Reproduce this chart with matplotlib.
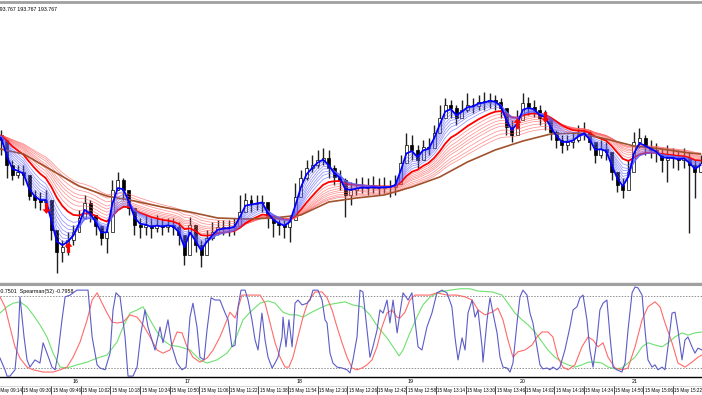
import matplotlib
matplotlib.use('Agg')
import matplotlib.pyplot as plt
import numpy as np
import pandas as pd
from matplotlib.path import Path

# x unit = minutes after 09:14, bars are 3 minutes wide starting at 09:16
bar_start = 2
bar_step = 3

close = [192.65, 192.60, 192.35, 192.25, 192.28, 192.25, 192.04, 192.00, 191.98, 192.00,
         191.70, 191.48, 191.53, 191.60, 191.68, 191.82, 191.97, 191.85, 191.74, 191.62,
         191.68, 192.10, 192.20, 192.10, 191.92, 191.75, 191.73, 191.75, 191.72, 191.75,
         191.73, 191.75, 191.73, 191.65, 191.45, 191.75, 191.55, 191.45, 191.62, 191.68,
         191.73, 191.72, 191.72, 191.74, 191.88, 192.00, 191.96, 191.97, 191.98, 191.82,
         191.77, 191.75, 191.73, 191.80, 192.03, 192.22, 192.32, 192.35, 192.40, 192.42,
         192.32, 192.23, 192.20, 192.05, 192.10, 192.12, 192.13, 192.12, 192.13, 192.12,
         192.13, 192.13, 192.16, 192.37, 192.55, 192.50, 192.40, 192.53, 192.52, 192.67,
         192.82, 192.95, 192.92, 192.82, 192.90, 192.95, 192.94, 192.98, 192.98, 193.00,
         192.98, 192.92, 192.73, 192.65, 192.80, 192.97, 192.93, 192.90, 192.82, 192.82,
         192.68, 192.60, 192.55, 192.58, 192.60, 192.66, 192.68, 192.58, 192.45, 192.51,
         192.48, 192.28, 192.15, 192.10, 192.28, 192.58, 192.62, 192.53, 192.50, 192.47,
         192.40, 192.42, 192.42, 192.40, 192.42, 192.35, 192.28, 192.37]
high = [192.72, 192.70, 192.52, 192.40, 192.35, 192.35, 192.20, 192.10, 192.08, 192.10,
        191.95, 191.65, 191.60, 191.68, 191.75, 191.90, 192.05, 192.00, 191.85, 191.75,
        191.72, 192.20, 192.28, 192.22, 192.10, 191.90, 191.82, 191.85, 191.82, 191.85,
        191.82, 191.82, 191.82, 191.78, 191.62, 191.83, 191.75, 191.60, 191.70, 191.78,
        191.80, 191.80, 191.80, 191.82, 192.05, 192.07, 192.05, 192.05, 192.05, 191.95,
        191.85, 191.82, 191.80, 191.85, 192.17, 192.30, 192.40, 192.45, 192.50, 192.52,
        192.50, 192.35, 192.30, 192.22, 192.18, 192.22, 192.23, 192.22, 192.24, 192.22,
        192.23, 192.20, 192.25, 192.45, 192.67, 192.65, 192.55, 192.60, 192.62, 192.75,
        192.95, 193.02, 193.00, 192.95, 193.00, 193.07, 193.02, 193.05, 193.08, 193.07,
        193.05, 193.02, 192.90, 192.80, 192.90, 193.07, 193.03, 193.00, 192.95, 192.90,
        192.80, 192.70, 192.65, 192.65, 192.68, 192.75, 192.78, 192.70, 192.57, 192.60,
        192.58, 192.42, 192.28, 192.22, 192.40, 192.68, 192.72, 192.65, 192.60, 192.57,
        192.52, 192.55, 192.52, 192.50, 192.52, 192.48, 192.40, 192.45]
low = [192.60, 192.45, 192.22, 192.20, 192.22, 192.15, 192.00, 191.92, 191.90, 191.92,
       191.60, 191.27, 191.38, 191.45, 191.55, 191.72, 191.85, 191.78, 191.65, 191.55,
       191.47, 191.85, 192.10, 192.00, 191.85, 191.65, 191.62, 191.65, 191.62, 191.68,
       191.65, 191.68, 191.65, 191.55, 191.35, 191.60, 191.48, 191.33, 191.50, 191.60,
       191.65, 191.65, 191.64, 191.65, 191.75, 191.90, 191.88, 191.90, 191.88, 191.72,
       191.63, 191.65, 191.62, 191.58, 191.90, 192.05, 192.20, 192.28, 192.32, 192.35,
       192.22, 192.15, 192.10, 191.83, 191.95, 192.05, 192.07, 192.05, 192.07, 192.05,
       192.07, 192.03, 192.05, 192.25, 192.42, 192.40, 192.32, 192.42, 192.45, 192.58,
       192.72, 192.85, 192.82, 192.75, 192.82, 192.88, 192.87, 192.90, 192.90, 192.92,
       192.90, 192.82, 192.65, 192.58, 192.70, 192.88, 192.85, 192.83, 192.75, 192.70,
       192.60, 192.52, 192.47, 192.50, 192.52, 192.58, 192.60, 192.50, 192.37, 192.42,
       192.40, 192.20, 192.08, 192.02, 192.15, 192.40, 192.52, 192.45, 192.42, 192.38,
       192.28, 192.18, 192.32, 192.30, 192.32, 191.67, 192.02, 192.28]

# slow brown average, read at every 5th bar
brown_bar = [0, 5, 10, 15, 20, 25, 30, 35, 40, 45, 50, 55, 60, 65, 70, 75, 80, 85,
             90, 95, 100, 105, 110, 115, 120, 125, 127]
brown_val = [192.52, 192.46, 192.30, 192.14, 192.04, 191.99, 191.93, 191.88, 191.82,
             191.81, 191.82, 191.85, 191.98, 192.02, 192.05, 192.13, 192.23, 192.38,
             192.50, 192.59, 192.66, 192.67, 192.61, 192.54, 192.51, 192.47, 192.46]

blue_spans = [2, 2.7, 3.4, 4.2, 5, 6, 7, 8.5]
red_spans = [11, 13, 15, 17, 19, 21, 24, 27, 30]

# signal arrows
sig_bar = [9, 13, 94, 99]
sig_price = [191.92, 191.53, 192.77, 192.83]
sig_up = [False, True, True, False]

# Spearman oscillators
blue_t = [4.3, 7.0, 8.1, 9.7, 12.4, 14.1, 15.1, 17.3, 18.9, 20.5, 23.2, 25.9, 27.6, 29.7,
          32.4, 34.1, 35.7, 37.8, 39.5, 42.2, 45.9, 50.3, 51.9, 54.1, 56.8, 58.4, 61.1,
          63.8, 65.4, 67.0, 69.2, 71.9, 73.5, 76.2, 78.4, 80.5, 82.7, 84.3, 88.1, 90.8,
          92.4, 95.1, 97.3, 100.0, 102.7, 104.9, 107.0, 108.6, 110.8, 112.4, 114.6, 116.2,
          118.4, 120.5, 123.2, 126.0, 127.6, 129.7, 131.4, 133.0, 134.6, 136.8, 138.4,
          140.5, 142.2, 143.8, 145.9, 147.6, 149.2, 151.4, 153.0, 154.6, 156.8, 157.3,
          158.9, 160.5, 162.2, 163.8, 165.4, 167.6, 170.3, 171.9, 173.5, 176.2, 178.4,
          180.0, 181.1, 182.7, 184.3, 186.5, 189.2, 191.9, 193.5, 195.1, 197.3, 198.9,
          200.5, 202.7, 204.3, 205.9, 208.1, 209.7, 211.4, 213.5, 215.1, 216.8, 219.0,
          220.5, 222.2, 224.9, 227.0, 228.6, 230.3, 232.4, 235.1, 237.8, 240.5, 243.2,
          245.9, 248.6, 250.3, 251.9, 254.1, 255.7, 257.3, 259.5, 261.1, 262.7, 264.9,
          265.4, 267.6, 269.2, 270.8, 273.0, 274.6, 276.2, 278.4, 280.0, 281.6, 283.8,
          285.4, 287.0, 289.2, 290.8, 292.4, 294.6, 296.2, 297.8, 300.0, 301.6, 303.2,
          305.4, 307.0, 309.7, 312.4, 314.1, 316.2, 317.8, 319.5, 321.6, 323.2, 324.9,
          327.0, 328.6, 330.3, 332.4, 334.1, 335.7, 337.8, 340.5, 342.2, 343.8, 346.0,
          347.6, 349.2, 351.4, 353.0, 354.6, 356.8, 358.4, 360.0, 362.2, 363.8, 365.4,
          367.6, 369.2, 370.8, 373.0, 374.6, 376.2, 378.4, 380.0, 381.6, 383.8]
blue_v = [-0.58, -0.84, -0.98, -0.98, -0.84, -0.11, 0.78, -0.11, -0.62, -0.78, -0.62, -0.69,
          -0.24, -0.47, -0.78, -0.84, -0.47, 0.27, 0.78, 0.82, 0.93, 0.93, 0.93, -0.11,
          -0.73, -0.80, -0.84, -0.47, 0.49, 0.87, 0.78, -0.11, -0.98, -0.98, -0.78, -0.02,
          0.49, 0.11, -0.40, 0.11, -0.24, 0.27, -0.33, -0.69, -0.84, -0.78, 0.33, 0.64,
          0.11, -0.56, -0.62, 0.04, 0.76, 0.71, 0.71, 0.42, 0.27, -0.33, -0.29, 0.56, 0.93,
          0.93, 0.71, 0.27, -0.18, -0.40, 0.42, -0.18, -0.56, -0.80, -0.69, -0.56, -0.11,
          0.33, -0.33, 0.27, -0.33, 0.64, 0.71, 0.60, 0.64, 0.71, 0.93, 0.93, 0.71, 0.27,
          0.20, -0.47, -0.69, -0.78, -0.80, -0.84, -0.91, -0.62, -0.11, 0.93, 0.89, 0.04,
          -0.56, -0.33, 0.04, 0.49, 0.42, 0.71, 0.20, 0.71, -0.02, 0.42, 0.87, 0.71, 0.87,
          0.27, -0.33, -0.40, 0.11, 0.42, 0.87, 0.93, 0.87, 0.56, -0.13, -0.62, -0.13,
          -0.40, 0.42, 0.71, 0.33, 0.49, -0.33, -0.67, 0.27, 0.76, 0.42, -0.02, -0.56,
          -0.78, -0.80, -0.89, -0.69, 0.20, 0.78, 0.93, 0.82, 0.42, 0.20, -0.33, -0.73,
          -0.82, -0.80, -0.84, -0.78, -0.84, -0.78, -0.40, 0.11, 0.49, 0.56, 0.76, 0.82,
          0.27, -0.40, -0.78, -0.18, 0.49, 0.64, 0.71, -0.11, -0.78, -0.84, -0.89, -0.69,
          0.04, 0.87, 1.00, 0.98, 0.82, 0.04, -0.62, -0.78, -0.73, -0.84, -0.78, -0.84,
          -0.33, 0.42, 0.44, 0.04, -0.62, -0.18, -0.11, -0.33, -0.47, -0.36, -0.40]

red_t = [4.3, 7.0, 9.7, 12.4, 15.1, 18.9, 22.2, 27.6, 33.0, 36.8, 40.5, 43.8, 47.6, 51.4,
         54.1, 56.8, 59.5, 62.2, 64.9, 67.6, 70.8, 74.6, 78.4, 81.6, 85.4, 89.2, 92.4,
         96.2, 100.0, 102.7, 105.4, 108.6, 112.4, 116.2, 119.5, 123.2, 127.0, 128.6,
         131.4, 135.1, 139.5, 144.9, 147.6, 150.3, 153.0, 155.7, 158.4, 160.5, 162.7,
         165.4, 168.1, 170.8, 174.6, 178.4, 181.1, 183.8, 186.5, 189.2, 191.9, 194.6,
         197.3, 200.0, 202.7, 205.4, 208.1, 210.8, 213.5, 216.2, 218.9, 220.5, 223.2,
         225.9, 228.6, 232.4, 236.8, 240.5, 245.9, 251.4, 255.7, 259.5, 262.7, 266.5,
         270.3, 273.5, 276.2, 278.9, 281.6, 284.3, 288.1, 291.9, 294.6, 297.3, 300.5,
         303.2, 305.9, 308.6, 311.4, 315.1, 318.9, 322.2, 324.9, 327.6, 330.3, 333.0,
         336.8, 340.5, 343.8, 347.6, 351.4, 354.6, 358.4, 361.1, 363.8, 367.6, 370.8,
         374.6, 378.4, 381.6, 383.8]
red_v = [0.78, 0.56, 0.11, -0.33, -0.58, -0.78, -0.84, -0.89, -0.89, -0.84, -0.78, -0.56,
         -0.22, 0.27, 0.71, 0.87, 0.64, 0.42, 0.22, 0.20, 0.22, 0.38, 0.33, 0.16, -0.11,
         -0.40, -0.47, -0.40, 0.00, -0.02, -0.33, -0.56, -0.67, -0.58, -0.40, -0.11, 0.27,
         0.44, 0.31, 0.82, 0.82, 0.82, 0.64, 0.20, -0.24, -0.56, -0.78, -0.78, -0.56,
         -0.11, 0.33, 0.67, 0.89, 0.89, 0.76, 0.49, 0.11, -0.24, -0.56, -0.80, -0.84,
         -0.80, -0.73, -0.62, -0.33, 0.11, 0.42, 0.49, 0.33, 0.31, 0.44, 0.71, 0.82, 0.82,
         0.82, 0.87, 0.82, 0.82, 0.78, 0.71, 0.49, 0.38, 0.44, 0.53, 0.27, -0.18, -0.56,
         -0.44, -0.40, -0.29, -0.11, 0.00, 0.00, -0.11, -0.56, -0.78, -0.84, -0.73, -0.33,
         -0.11, -0.18, -0.33, -0.24, -0.56, -0.80, -0.84, -0.80, -0.33, 0.27, 0.56, 0.67,
         0.56, 0.20, -0.24, -0.69, -0.78, -0.67, -0.56, -0.51]

green_t = [4.3, 8.1, 11.4, 15.1, 18.9, 22.2, 25.9, 29.7, 33.0, 36.8, 40.5, 45.9, 51.4,
           56.8, 62.2, 67.6, 70.8, 74.6, 78.4, 81.6, 85.4, 89.2, 92.4, 96.2, 101.6, 107.0,
           112.4, 116.2, 121.6, 127.0, 130.3, 135.7, 139.5, 144.9, 149.2, 153.0, 157.3,
           161.1, 164.9, 168.1, 171.9, 177.3, 181.1, 186.5, 190.8, 195.1, 200.0, 204.3,
           208.6, 213.5, 216.8, 220.0, 222.2, 225.9, 229.7, 232.9, 236.8, 242.2, 247.6,
           253.0, 258.4, 262.7, 270.3, 275.7, 278.9, 282.7, 286.5, 289.7, 293.5, 297.3,
           300.5, 304.3, 308.1, 311.4, 315.1, 318.9, 322.2, 325.9, 329.7, 333.0, 336.8,
           340.5, 343.8, 347.6, 351.4, 354.6, 358.4, 362.2, 365.4, 369.2, 373.0, 376.2,
           380.0, 383.8]
green_v = [0.42, 0.56, 0.64, 0.67, 0.56, 0.38, 0.16, -0.11, -0.47, -0.78, -0.80, -0.73,
           -0.67, -0.58, -0.51, -0.22, 0.11, 0.42, 0.49, 0.56, 0.27, 0.00, -0.18, -0.29,
           -0.33, -0.40, -0.62, -0.69, -0.62, -0.47, -0.29, 0.27, 0.44, 0.64, 0.69, 0.64,
           0.44, 0.38, 0.38, 0.33, 0.42, 0.53, 0.60, 0.64, 0.67, 0.60, 0.56, 0.38, 0.11,
           -0.13, -0.33, -0.53, -0.40, -0.02, 0.33, 0.60, 0.78, 0.89, 0.93, 0.96, 0.96,
           0.91, 0.89, 0.82, 0.64, 0.42, 0.27, 0.16, 0.00, -0.22, -0.40, -0.56, -0.67,
           -0.73, -0.78, -0.73, -0.67, -0.67, -0.69, -0.78, -0.82, -0.80, -0.69, -0.56,
           -0.33, -0.24, -0.29, -0.33, -0.24, -0.11, -0.02, -0.07, -0.02, 0.00]

# time scale
tick_min = list(range(0, 369, 16))
tick_lab = ['15 May %02d:%02d' % ((554 + t) // 60, (554 + t) % 60) for t in tick_min]
day_min = [45, 105.5, 166, 226.5, 287, 347.5]
day_lab = ['16', '17', '18', '19', '20', '21']

small = ['Liberation Sans', 'DejaVu Sans']
W, H = 702, 395
fig = plt.figure(figsize=(W / 100, H / 100), dpi=100)
fig.patch.set_facecolor('white')

ax1 = fig.add_axes([0, 1 - 283 / H, 1, 281 / H])
ax2 = fig.add_axes([0, 1 - 377 / H, 1, 92 / H])
ax3 = fig.add_axes([0, 0, 1, 17 / H])
xlim = (4.3, 383.8)

# price panel
bx = bar_start + bar_step * np.arange(len(close))
c = pd.Series(close)
o = c.shift(1).fillna(c.iloc[0])
ax1.vlines(bx, low, high, color='#202020', lw=1.0, zorder=2)
up = c >= o
ax1.bar(bx, (c - o).abs().clip(lower=0.008), bottom=np.minimum(c, o), width=1.6,
        color=np.where(up, 'white', 'black'), edgecolor='black', lw=0.5, zorder=2)

for sp in red_spans[::-1]:
    ema = c.ewm(span=sp, adjust=False).mean()
    if sp == red_spans[0]:
        ax1.plot(bx, ema, color='#ff0000', lw=1.3, zorder=4)
    else:
        ax1.plot(bx, ema, color='#ff6464', lw=0.55, alpha=0.7, zorder=3)
for sp in blue_spans[::-1]:
    ema = c.ewm(span=sp, adjust=False).mean()
    if sp == blue_spans[0]:
        ax1.plot(bx, ema, color='#0000ff', lw=1.3, zorder=6)
    else:
        ax1.plot(bx, ema, color='#6464ff', lw=0.55, alpha=0.7, zorder=5)
ax1.plot(bar_start + bar_step * np.array(brown_bar), brown_val, color='#a0522d', lw=1.2, zorder=4)

arrow_up = Path([(0, 1), (-0.75, 0.15), (-0.3, 0.15), (-0.3, -1), (0.3, -1), (0.3, 0.15),
                 (0.75, 0.15), (0, 1)],
                [Path.MOVETO] + [Path.LINETO] * 6 + [Path.CLOSEPOLY])
arrow_dn = Path(arrow_up.vertices * [1, -1], arrow_up.codes)
for b, p, u in zip(sig_bar, sig_price, sig_up):
    ax1.scatter(bar_start + bar_step * b, p, marker=arrow_up if u else arrow_dn,
                s=60, color='red', zorder=8, lw=0)

ax1.set_xlim(*xlim)
ax1.set_ylim(191.17, 193.98)
ax1.set_xticks([])
ax1.set_yticks([])
for k in ['left', 'right']:
    ax1.spines[k].set_visible(False)
ax1.spines['top'].set_color('#a0a0a0')
ax1.spines['top'].set_linewidth(2)
ax1.spines['bottom'].set_color('#a0a0a0')
ax1.spines['bottom'].set_linewidth(1)
ax1.text(0.081, 0.985, 'USDJPY,M1  193.767 193.767 193.767', transform=ax1.transAxes,
         ha='right', va='top', fontsize=3.8, family=small)

# oscillator panel
ax2.axhline(0.8, color='#909090', lw=0.7, ls=(0, (1.5, 1.5)))
ax2.axhline(-0.8, color='#909090', lw=0.7, ls=(0, (1.5, 1.5)))
ax2.plot(green_t, green_v, color='#70e070', lw=0.8)
ax2.plot(red_t, red_v, color='#ff6a6a', lw=0.8)
ax2.plot(blue_t, blue_v, color='#5c5cc8', lw=0.8)
ax2.set_xlim(*xlim)
ax2.set_ylim(-1.0, 1.044)
ax2.set_xticks([])
ax2.set_yticks([])
for k in ['left', 'right']:
    ax2.spines[k].set_visible(False)
ax2.spines['top'].set_color('#a0a0a0')
ax2.spines['top'].set_linewidth(1.5)
ax2.spines['bottom'].set_color('black')
ax2.spines['bottom'].set_linewidth(1)
ax2.text(-0.052, 0.93, 'Spearman(20) -0.7501  Spearman(52) -0.7958', transform=ax2.transAxes,
         ha='left', va='center', fontsize=3.8, family=small, clip_on=False)

# time scale
ax3.set_xlim(*xlim)
ax3.set_ylim(0, 1)
ax3.axis('off')
ax3.axhline(0.52, color='#d0d0d0', lw=0.6)
for t, lab in zip(day_min, day_lab):
    ax3.text(t, 0.8, lab, ha='center', va='center', fontsize=3.8, family=small)
ax3.vlines(tick_min, 0.08, 0.52, color='black', lw=0.5)
for t, lab in zip(tick_min, tick_lab):
    ax3.text(t + 0.8, 0.25, lab, ha='left', va='center', fontsize=3.3, family=small)

fig.savefig('out.png', dpi=100, facecolor='white')
